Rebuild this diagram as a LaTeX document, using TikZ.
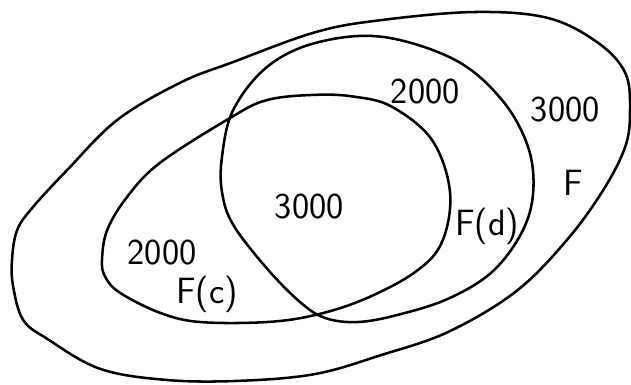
\documentclass[tikz,border=0pt]{standalone}
\usepackage{tikz}
\usepackage{xcolor}
\usetikzlibrary{positioning}
\definecolor{ink}{HTML}{000000}
\definecolor{paper}{HTML}{FFFFFF}
\tikzset{
  setcurve/.style={draw=ink,line width=1.8pt,line join=round},
  setlabel/.style={font=\fontsize{26}{28}\selectfont\sffamily,text=ink,
                   inner sep=1pt}
}
\begin{document}
\begin{tikzpicture}[x=1cm,y=1cm]
    \path[use as bounding box,fill=paper] (0,0) rectangle (15.775,9.6);
    % whole set F
    \draw[setcurve] plot[smooth cycle,tension=0.6] coordinates {
      (7.90,8.80) (9.55,9.10) (11.88,9.30) (13.70,9.15) (14.95,8.53)
      (15.63,7.78) (15.75,6.85) (15.63,5.93) (15.05,4.80) (14.13,3.55)
      (12.88,2.30) (11.20,1.30) (9.55,0.73) (7.88,0.25) (6.00,0.08)
      (4.18,0.10) (2.50,0.38) (1.18,1.13) (0.58,1.60) (0.33,2.43)
      (0.30,3.10) (0.43,3.85) (0.83,4.43) (1.68,5.35) (2.93,6.60)
      (4.50,7.53) (5.83,8.05)};
    % F(d)
    \draw[setcurve] plot[smooth cycle,tension=0.6] coordinates {
      (5.55,4.80) (5.83,3.98) (6.68,2.88) (7.50,2.05) (8.13,1.65)
      (8.95,1.55) (9.95,1.73) (11.20,2.13) (12.30,2.80) (13.05,3.80)
      (13.33,4.80) (13.20,5.93) (12.55,7.10) (11.38,8.10) (9.55,8.68)
      (7.90,8.53) (6.68,7.93) (5.83,6.85) (5.55,5.68)};
    % F(c)
    \draw[setcurve] plot[smooth cycle,tension=0.6] coordinates {
      (4.00,5.53) (3.18,4.68) (2.68,3.85) (2.55,3.10) (2.63,2.68)
      (3.00,2.28) (4.00,1.78) (5.00,1.55) (6.68,1.55) (7.90,1.73)
      (9.13,2.13) (10.38,2.80) (11.05,3.55) (11.25,4.80) (10.80,6.10)
      (9.80,6.93) (8.88,7.18) (7.90,7.23) (6.68,7.10) (5.75,6.65)};

    \node[setlabel] (dtop) at (10.63,7.30) {2000};
    \node[setlabel] (fout) at (14.13,6.85) {3000};
    \node[setlabel] (fname) at (14.33,5.03) {F};
    \node[setlabel] (cdboth) at (7.73,4.43) {3000};
    \node[setlabel] (dname) at (12.18,3.95) {F(d)};
    \node[setlabel] (cleft) at (4.05,3.28) {2000};
    \node[setlabel] (cname) at (5.18,2.23) {F(c)};
  \end{tikzpicture}
\end{document}
